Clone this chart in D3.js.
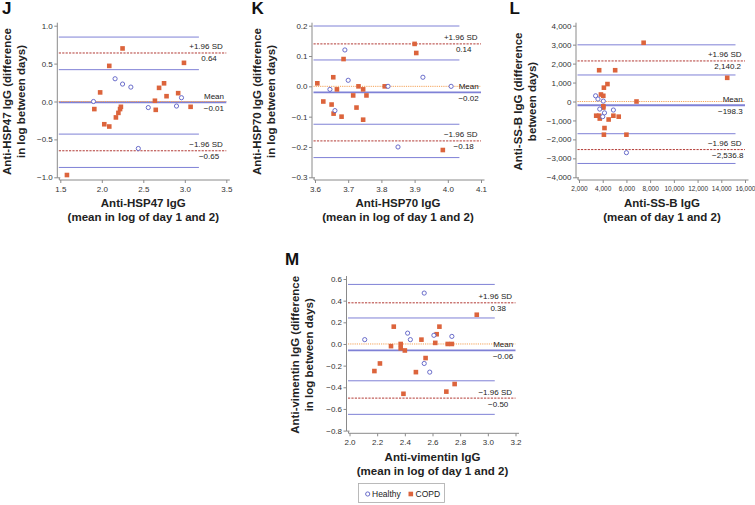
<!DOCTYPE html>
<html>
<head>
<meta charset="utf-8">
<script src="https://cdn.jsdelivr.net/npm/d3@7"></script>
<style>
  body { margin: 0; background: #fff; }
  svg { display: block; }
  text { font-family: Arial, "Liberation Sans", sans-serif; }
</style>
</head>
<body>
<svg id="chart" width="755" height="505"></svg>
<script>
// ---- data ----
// J: anti-HSP47
const jHealthyX = [1.90, 2.16, 2.25, 2.35, 2.44, 2.56, 2.90, 2.96];
const jHealthyY = [0.00, 0.30, 0.23, 0.19, -0.62, -0.08, -0.06, 0.05];
const jCopdX = [1.58, 1.91, 1.98, 2.03, 2.09, 2.09, 2.17, 2.20, 2.22, 2.23, 2.25, 2.64, 2.65, 2.69, 2.75, 2.78, 2.92, 2.99, 3.07];
const jCopdY = [-0.97, -0.10, 0.12, -0.30, 0.47, -0.33, -0.21, -0.15, -0.10, -0.07, 0.70, 0.01, -0.11, 0.18, 0.24, 0.07, 0.11, 0.51, -0.07];
// mean, +1.96 SD, -1.96 SD, CI of upper limit, CI of lower limit, end of CI lines
const jStats = { mean: -0.01, upper: 0.64, lower: -0.65, upperCI: [0.42, 0.85], lowerCI: [-0.87, -0.43], ciEnd: 3.17 };
const jXTicks = [1.5, 2.0, 2.5, 3.0, 3.5];
const jYTicks = [-1.0, -0.5, 0.0, 0.5, 1.0];

// K: anti-HSP70
const kHealthyX = [3.645, 3.66, 3.69, 3.70, 3.82, 3.85, 3.925, 4.01];
const kHealthyY = [-0.01, -0.08, 0.12, 0.02, 0.00, -0.20, 0.03, 0.00];
const kCopdX = [3.607, 3.625, 3.65, 3.655, 3.656, 3.666, 3.68, 3.686, 3.715, 3.725, 3.731, 3.745, 3.745, 3.755, 3.81, 3.90, 3.905, 3.985];
const kCopdY = [0.01, -0.05, -0.06, 0.03, -0.09, -0.01, -0.10, 0.09, -0.03, -0.07, 0.00, -0.01, -0.11, -0.03, 0.00, 0.14, 0.11, -0.21];
const kStats = { mean: -0.02, upper: 0.14, lower: -0.18, upperCI: [0.087, 0.199], lowerCI: [-0.235, -0.125], ciEnd: 4.035 };
const kXTicks = [3.6, 3.7, 3.8, 3.9, 4.0, 4.1];
const kYTicks = [-0.3, -0.2, -0.1, 0.0, 0.1, 0.2];

// L: anti-SS-B
const lHealthyX = [3400, 3600, 4050, 3750, 4150, 4000, 4900, 6000];
const lHealthyY = [300, 130, 20, -400, -600, -800, -450, -2700];
const lCopdX = [7450, 3700, 5050, 14500, 4400, 4100, 3850, 4050, 6850, 4050, 4050, 3450, 3700, 3750, 4500, 4900, 5350, 4150, 4100, 6000];
const lCopdY = [3100, 1650, 1650, 1250, 920, 730, 370, 300, 0, -250, -320, -750, -750, -900, -950, -750, -800, -1400, -1750, -1750];
const lStats = { mean: -198.3, upper: 2140.2, lower: -2536.8, upperCI: [1400, 2990], lowerCI: [-3270, -1700], ciEnd: 15200 };
const lXTicks = [2000, 4000, 6000, 8000, 10000, 12000, 14000, 16000];
const lYTicks = [-4000, -3000, -2000, -1000, 0, 1000, 2000, 3000, 4000];

// M: anti-vimentin
const mHealthyX = [2.11, 2.42, 2.44, 2.54, 2.54, 2.58, 2.61, 2.74];
const mHealthyY = [0.04, 0.10, 0.04, -0.18, 0.47, -0.26, 0.08, 0.07];
const mCopdX = [2.18, 2.22, 2.30, 2.32, 2.37, 2.37, 2.40, 2.39, 2.48, 2.52, 2.55, 2.62, 2.63, 2.65, 2.70, 2.71, 2.74, 2.76, 2.92];
const mCopdY = [-0.25, -0.18, -0.02, 0.16, 0.00, -0.04, -0.06, -0.46, -0.26, 0.04, -0.13, 0.01, 0.09, 0.16, -0.44, 0.00, 0.00, -0.37, 0.27];
const mStats = { mean: -0.06, upper: 0.38, lower: -0.50, upperCI: [0.24, 0.55], lowerCI: [-0.65, -0.34], ciEnd: 3.05 };
const mXTicks = [2.0, 2.2, 2.4, 2.6, 2.8, 3.0, 3.2];
const mYTicks = [-0.8, -0.6, -0.4, -0.2, 0.0, 0.2, 0.4, 0.6];

const legendLabels = ['Healthy', 'COPD'];

// ---- style ----
const PLOT_W = 166;
const PLOT_H = 151.6;
const BLUE = '#7f81d6';
const RED = '#b23a35';
const ORANGE = '#f4a257';
const SQUARE = '#dc643c';
const CIRCLE = '#5a5ec4';
const AXIS = '#8a8a8a';
const TEXT = '#222';

const zip = (xs, ys) => xs.map((x, i) => ({ x, y: ys[i] }));

const panels = [
    {
        letter: 'J', left: 60.3, top: 25.7, yTitleX: 11, letterX: 2, letterY: 14,
        healthy: zip(jHealthyX, jHealthyY), copd: zip(jCopdX, jCopdY), stats: jStats,
        xTicks: jXTicks, yTicks: jYTicks, xFmt: d3.format('.1f'), yFmt: d3.format('.1f'),
        valFmt: d3.format('.2f'), xTickSize: 8,
        yTitle: ['Anti-HSP47 IgG (difference', 'in log between days)'],
        xTitle: ['Anti-HSP47 IgG', '(mean in log of day 1 and 2)'],
    },
    {
        letter: 'K', left: 315, top: 25.7, yTitleX: 261, letterX: 251.5, letterY: 14,
        healthy: zip(kHealthyX, kHealthyY), copd: zip(kCopdX, kCopdY), stats: kStats,
        xTicks: kXTicks, yTicks: kYTicks, xFmt: d3.format('.1f'), yFmt: d3.format('.1f'),
        valFmt: d3.format('.2f'), xTickSize: 8,
        yTitle: ['Anti-HSP70 IgG (difference', 'in log between days)'],
        xTitle: ['Anti-HSP70 IgG', '(mean in log of day 1 and 2)'],
    },
    {
        letter: 'L', left: 579, top: 25.7, yTitleX: 522, letterX: 509.5, letterY: 14,
        healthy: zip(lHealthyX, lHealthyY), copd: zip(lCopdX, lCopdY), stats: lStats,
        xTicks: lXTicks, yTicks: lYTicks, xFmt: d3.format(','), yFmt: d3.format(','),
        valFmt: d3.format(',.1f'), xTickSize: 6.5,
        yTitle: ['Anti-SS-B IgG (difference', 'between days)'],
        xTitle: ['Anti-SS-B IgG', '(mean of day 1 and 2)'],
    },
    {
        letter: 'M', left: 349.5, top: 279, yTitleX: 299, letterX: 285, letterY: 265,
        healthy: zip(mHealthyX, mHealthyY), copd: zip(mCopdX, mCopdY), stats: mStats,
        xTicks: mXTicks, yTicks: mYTicks, xFmt: d3.format('.1f'), yFmt: d3.format('.1f'),
        valFmt: d3.format('.2f'), xTickSize: 8,
        yTitle: ['Anti-vimentin IgG (difference', 'in log between days)'],
        xTitle: ['Anti-vimentin IgG', '(mean in log of day 1 and 2)'],
    },
];

const svg = d3.select('#chart');

function drawPanel(p) {
    const g = svg.append('g').attr('class', `panel-${p.letter}`);
    const x = d3.scaleLinear()
        .domain(d3.extent(p.xTicks))
        .range([p.left, p.left + PLOT_W]);
    const y = d3.scaleLinear()
        .domain(d3.extent(p.yTicks))
        .range([p.top + PLOT_H, p.top]);

    const axX = p.left - 3;
    const axY = p.top + PLOT_H + 2.7;

    // axes
    const yAxis = g.append('g')
        .attr('transform', `translate(${axX},0)`)
        .call(d3.axisLeft(y).tickValues(p.yTicks).tickFormat(p.yFmt).tickSize(3).tickPadding(1.5).tickSizeOuter(0));
    yAxis.select('.domain').remove();
    yAxis.selectAll('line').attr('stroke', AXIS);
    yAxis.selectAll('text').attr('font-size', 8).attr('fill', '#333')
        .style('font-family', 'Arial, "Liberation Sans", sans-serif');

    const xAxis = g.append('g')
        .attr('transform', `translate(0,${axY})`)
        .call(d3.axisBottom(x).tickValues(p.xTicks).tickFormat(p.xFmt).tickSize(3).tickPadding(3.5).tickSizeOuter(0));
    xAxis.select('.domain').remove();
    xAxis.selectAll('line').attr('stroke', AXIS);
    xAxis.selectAll('text').attr('font-size', p.xTickSize).attr('fill', '#333')
        .style('font-family', 'Arial, "Liberation Sans", sans-serif');

    g.append('path')
        .attr('d', `M${axX},${p.top - 3}V${p.top + PLOT_H + 0.5}h3`)
        .attr('fill', 'none').attr('stroke', AXIS);
    g.append('path')
        .attr('d', `M${axX + 2},${axY - 2}V${axY}H${p.left + PLOT_W + 3.5}`)
        .attr('fill', 'none').attr('stroke', AXIS);

    const s = p.stats;
    const x0 = x.range()[0] - 1.5;
    const xEnd = x.range()[1];

    // CI lines (blue) for the limits
    const ciVals = [...s.upperCI, ...s.lowerCI];
    g.append('g').selectAll('line')
        .data(ciVals)
        .join('line')
        .attr('x1', x0).attr('x2', x(s.ciEnd))
        .attr('y1', d => y(d)).attr('y2', d => y(d))
        .attr('stroke', BLUE).attr('stroke-width', 1);

    // mean line
    g.append('line')
        .attr('x1', x0).attr('x2', xEnd)
        .attr('y1', y(s.mean)).attr('y2', y(s.mean))
        .attr('stroke', BLUE).attr('stroke-width', 1.8);

    // zero reference
    g.append('line')
        .attr('x1', x0).attr('x2', xEnd)
        .attr('y1', y(0)).attr('y2', y(0))
        .attr('stroke', ORANGE).attr('stroke-width', 1)
        .attr('stroke-dasharray', '1.2,1');

    // limits of agreement
    g.append('g').selectAll('line')
        .data([s.upper, s.lower])
        .join('line')
        .attr('x1', x0).attr('x2', xEnd)
        .attr('y1', d => y(d)).attr('y2', d => y(d))
        .attr('stroke', RED).attr('stroke-width', 1)
        .attr('stroke-dasharray', '2.2,1.2');

    // points
    g.append('g').selectAll('rect')
        .data(p.copd)
        .join('rect')
        .attr('x', d => x(d.x) - 2.3).attr('y', d => y(d.y) - 2.3)
        .attr('width', 4.6).attr('height', 4.6)
        .attr('fill', SQUARE);

    g.append('g').selectAll('circle')
        .data(p.healthy)
        .join('circle')
        .attr('cx', d => x(d.x)).attr('cy', d => y(d.y))
        .attr('r', 2.1)
        .attr('fill', '#fff').attr('stroke', CIRCLE).attr('stroke-width', 0.9);

    // line labels
    const labels = g.append('g').attr('font-size', 8).attr('fill', TEXT);
    const sdLabels = [
        { name: '+1.96 SD', v: s.upper },
        { name: '\u22121.96 SD', v: s.lower },
    ];
    sdLabels.forEach(l => {
        const t = labels.append('text')
            .attr('x', xEnd - 3.5).attr('y', y(l.v) - 3.5)
            .attr('text-anchor', 'end')
            .text(l.name);
        const w = t.node().getComputedTextLength();
        labels.append('text')
            .attr('x', xEnd - 3.5 - w / 2 + 3).attr('y', y(l.v) + 8.5)
            .attr('text-anchor', 'middle')
            .text(p.valFmt(l.v));
    });
    labels.append('text')
        .attr('x', xEnd - 2.3).attr('y', y(s.mean) - 3.5)
        .attr('text-anchor', 'end')
        .text('Mean');
    labels.append('text')
        .attr('x', xEnd - 2.3).attr('y', y(s.mean) + 8.5)
        .attr('text-anchor', 'end')
        .text(p.valFmt(s.mean));

    // titles
    const cy = p.top + PLOT_H / 2;
    p.yTitle.forEach((t, i) => {
        g.append('text')
            .attr('transform', `translate(${p.yTitleX + i * 13.5},${cy}) rotate(-90)`)
            .attr('text-anchor', 'middle')
            .attr('font-size', 11.5).attr('font-weight', 'bold').attr('fill', TEXT)
            .text(t);
    });
    const cx = p.left + PLOT_W / 2;
    p.xTitle.forEach((t, i) => {
        g.append('text')
            .attr('x', cx).attr('y', p.top + PLOT_H + 30 + i * 14)
            .attr('text-anchor', 'middle')
            .attr('font-size', 11.5).attr('font-weight', 'bold').attr('fill', TEXT)
            .text(t);
    });

    g.append('text')
        .attr('x', p.letterX).attr('y', p.letterY)
        .attr('font-size', 17).attr('font-weight', 'bold').attr('fill', '#111')
        .text(p.letter);
}

panels.forEach(drawPanel);

// legend
const legend = svg.append('g').attr('transform', 'translate(358.5,483.5)');
legend.append('rect')
    .attr('width', 86).attr('height', 19)
    .attr('fill', '#fff').attr('stroke', '#aaa').attr('stroke-width', 0.8);
legend.append('circle')
    .attr('cx', 9.2).attr('cy', 10.5).attr('r', 2.1)
    .attr('fill', '#fff').attr('stroke', CIRCLE).attr('stroke-width', 0.9);
legend.append('rect')
    .attr('x', 50).attr('y', 8.2).attr('width', 4.6).attr('height', 4.6)
    .attr('fill', SQUARE);
legend.selectAll('text.item')
    .data(legendLabels)
    .join('text')
    .attr('class', 'item')
    .attr('x', (d, i) => i === 0 ? 13.5 : 57)
    .attr('y', 13.5)
    .attr('font-size', 8.5).attr('fill', TEXT)
    .text(d => d);
</script>
</body>
</html>
